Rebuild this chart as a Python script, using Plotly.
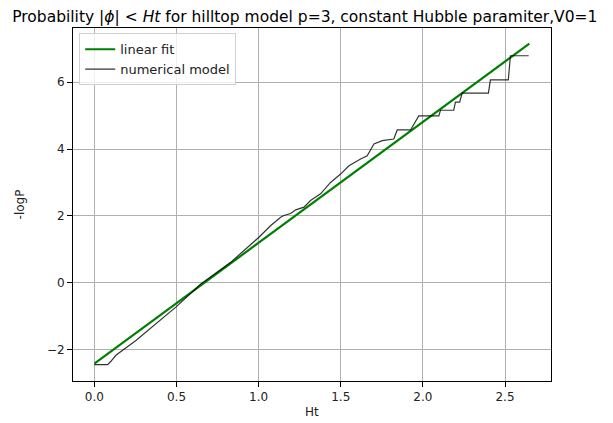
import plotly.graph_objects as go

# Linear fit
fit_x = [0.0, 2.648]
fit_y = [-2.42, 7.15]

# Numerical model
num_x = [0.0, 0.081, 0.101, 0.131, 0.253, 0.354, 0.496, 0.648, 0.830, 1.002,
         1.074, 1.134, 1.154, 1.195, 1.226, 1.276, 1.316, 1.377, 1.438, 1.499,
         1.550, 1.621, 1.661, 1.702, 1.753, 1.823, 1.844, 1.925, 1.975, 2.097,
         2.107, 2.188, 2.198, 2.224, 2.239, 2.399, 2.411, 2.520, 2.533, 2.644]
num_y = [-2.45, -2.45, -2.35, -2.17, -1.73, -1.31, -0.73, -0.04, 0.61, 1.36,
         1.71, 1.96, 2.01, 2.07, 2.18, 2.26, 2.46, 2.66, 3.00, 3.25,
         3.50, 3.70, 3.80, 4.15, 4.25, 4.30, 4.57, 4.57, 4.99, 4.99,
         5.16, 5.16, 5.40, 5.40, 5.67, 5.67, 6.07, 6.07, 6.79, 6.79]

x_ticks = [0.0, 0.5, 1.0, 1.5, 2.0, 2.5]
y_ticks = [-2, 0, 2, 4, 6]

FONT = "DejaVu Sans"

fig = go.Figure()
fig.add_trace(go.Scatter(x=fit_x, y=fit_y, mode="lines", name="linear fit",
                         line=dict(color="#008000", width=2.2)))
fig.add_trace(go.Scatter(x=num_x, y=num_y, mode="lines", name="numerical model",
                         line=dict(color="rgba(0,0,0,0.8)", width=1.2)))

axis_common = dict(
    showgrid=True, gridcolor="#b0b0b0", gridwidth=0.8,
    showline=True, linecolor="black", linewidth=1, mirror=True,
    ticks="outside", ticklen=5, tickwidth=1, tickcolor="black",
    zeroline=False, tickfont=dict(family=FONT, size=12, color="#222"),
    automargin=False,
)

# the page body adds an 8px margin, so the figure is 605x415
fig.update_layout(
    width=605, height=415,
    margin=dict(l=65, r=62, t=20, b=42),
    paper_bgcolor="white", plot_bgcolor="white",
    font=dict(family=FONT, size=12, color="#222"),
    title=dict(text="Probability |<i>ϕ</i>| &lt; <i>Ht</i> for hilltop model p=3, constant Hubble paramiter,V0=1",
               x=0.007, xref="container", xanchor="left", y=0.979, yref="container", yanchor="middle",
               font=dict(family=FONT, size=15.5, color="black")),
    showlegend=True,
    legend=dict(x=0.013, y=0.985, xanchor="left", yanchor="top",
                bgcolor="rgba(255,255,255,0.8)", bordercolor="#d0d0d0", borderwidth=1,
                font=dict(family=FONT, size=13, color="#222"),
                tracegroupgap=0, itemwidth=30),
    annotations=[
        dict(text="Ht", xref="paper", yref="paper", x=0.5, y=-0.088,
             xanchor="center", yanchor="middle", showarrow=False,
             font=dict(family=FONT, size=12, color="#222")),
        dict(text="-logP", xref="paper", yref="paper", x=-0.111, y=0.5,
             xanchor="center", yanchor="middle", textangle=-90, showarrow=False,
             font=dict(family=FONT, size=12, color="#222")),
    ],
)
fig.update_xaxes(range=[-0.13, 2.78], tickvals=x_ticks, ticktext=[f"{v:.1f}" for v in x_ticks],
                 **axis_common)
fig.update_yaxes(range=[-2.94, 7.62], tickvals=y_ticks,
                 ticktext=[("−" + str(-v)) if v < 0 else str(v) for v in y_ticks],
                 **axis_common)

fig.write_html("out.html")
